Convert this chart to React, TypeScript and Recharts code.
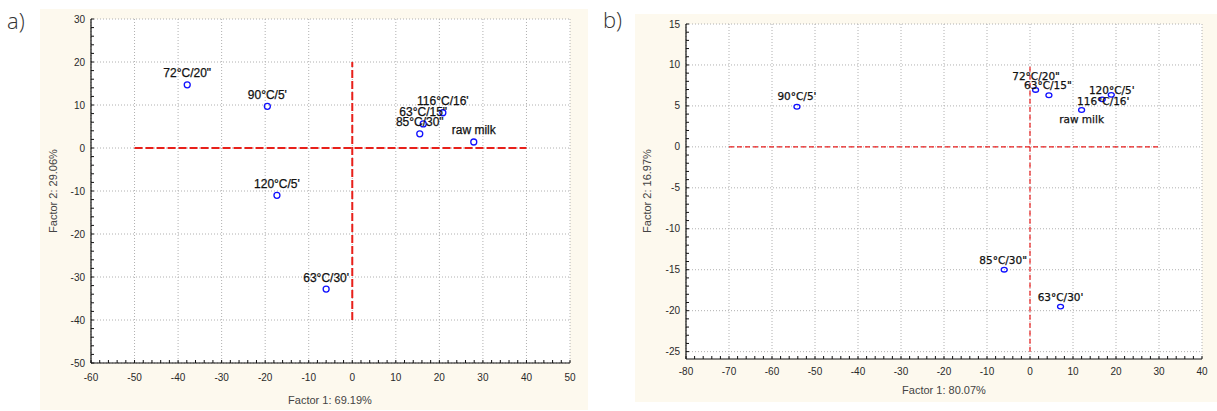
import React from 'react';
import { ScatterChart, Scatter, XAxis, YAxis, CartesianGrid, ReferenceLine } from 'recharts';

// a) factor scores
const leftNames = ['72°C/20"', "90°C/5'", "120°C/5'", "63°C/30'", "116°C/16'", '63°C/15"', '85°C/30"', 'raw milk'];
const leftF1 = [-37.9, -19.5, -17.3, -6.0, 20.8, 16.3, 15.5, 27.9];
const leftF2 = [14.7, 9.7, -11.0, -32.8, 8.2, 5.6, 3.3, 1.4];
const leftXTicks = [-60, -50, -40, -30, -20, -10, 0, 10, 20, 30, 40, 50];
const leftYTicks = [-50, -40, -30, -20, -10, 0, 10, 20, 30];
const leftHLine = [-50, 40];
const leftVLine = [-40, 20];

// b) factor scores
const rightNames = ["90°C/5'", '72°C/20"', '63°C/15"', 'raw milk', "116°C/16'", "120°C/5'", '85°C/30"', "63°C/30'"];
const rightF1 = [-54.2, 1.3, 4.4, 12.0, 16.8, 18.9, -6.0, 7.1];
const rightF2 = [4.9, 6.95, 6.3, 4.5, 5.8, 6.35, -15.0, -19.5];
const rightXTicks = [-80, -70, -60, -50, -40, -30, -20, -10, 0, 10, 20, 30, 40];
const rightYTicks = [-25, -20, -15, -10, -5, 0, 5, 10, 15];
const rightHLine = [-70, 30];
const rightVLine = [-25, 10];

const steps = (lo: number, hi: number, step: number) =>
  Array.from({ length: Math.round((hi - lo) / step) + 1 }, (_, i) => +(lo + i * step).toFixed(4));

const AXIS_FONT = '"Liberation Sans", Arial, sans-serif';

// label offsets for the crowded right panel (text centre relative to point)
const rightShift: Record<string, [number, number]> = {
  "90°C/5'": [0, -10.5],
  '72°C/20"': [0.5, -14.3],
  '63°C/15"': [-1, -10],
  "120°C/5'": [0.5, -5.3],
  "116°C/16'": [1, 1.3],
  'raw milk': [0, 8.7],
  '85°C/30"': [-1, -10],
  "63°C/30'": [0, -10],
};

type PanelProps = {
  names: string[];
  xs: number[];
  ys: number[];
  xTicks: number[];
  yTicks: number[];
  xDomain: [number, number];
  yDomain: [number, number];
  xMinor: number;
  yMinor: number;
  hLine: number[];
  vLine: number[];
  left: number;
  top: number;
  width: number;
  height: number;
  margin: { top: number; right: number; bottom: number; left: number };
  yAxisWidth: number;
  xAxisHeight: number;
  xLabelDy: number;
  refWidth: number;
  refDash: string;
  refColor: string;
  labelFont: string;
  labelSize: number;
  shift: (name: string) => [number, number];
  rx: number;
  ry: number;
};

function Panel(p: PanelProps) {
  const data = p.names.map((name, i) => ({ name, x: p.xs[i], y: p.ys[i] }));
  const xMinorTicks = steps(p.xDomain[0], p.xDomain[1], p.xMinor);
  const yMinorTicks = steps(Math.ceil(p.yDomain[0] / p.yMinor) * p.yMinor, p.yDomain[1], p.yMinor);

  const xTick = (t: any) =>
    p.xTicks.includes(t.payload.value) ? (
      <text x={t.x} y={t.y + p.xLabelDy} textAnchor="middle" dominantBaseline="central" fontFamily={AXIS_FONT} fontSize={10} fill="#2a2a2a">
        {t.payload.value}
      </text>
    ) : (
      <g />
    );
  const yTick = (t: any) =>
    p.yTicks.includes(t.payload.value) ? (
      <text x={t.x - 6} y={t.y} textAnchor="end" dominantBaseline="central" fontFamily={AXIS_FONT} fontSize={10} fill="#2a2a2a">
        {t.payload.value}
      </text>
    ) : (
      <g />
    );
  const blank = () => <g />;

  const shape = (s: any) => {
    const [dx, dy] = p.shift(s.payload.name);
    return (
      <g>
        <ellipse cx={s.cx} cy={s.cy} rx={p.rx} ry={p.ry} fill="none" stroke="#1010ff" strokeWidth={1.3} />
        <text
          x={s.cx + dx}
          y={s.cy + dy}
          textAnchor="middle"
          dominantBaseline="central"
          fontFamily={p.labelFont}
          fontSize={p.labelSize}
          fill="#111"
          stroke="#111"
          strokeWidth={0.25}
        >
          {s.payload.name}
        </text>
      </g>
    );
  };

  const frame = { stroke: '#111', strokeWidth: 1.2 };

  return (
    <div style={{ position: 'absolute', left: p.left, top: p.top, width: p.width, height: p.height, background: '#fdf9ee' }}>
      <ScatterChart width={p.width} height={p.height} margin={p.margin}>
        <CartesianGrid
          fill="#fff"
          stroke="#b0b0b0"
          strokeDasharray="1 2"
          verticalValues={p.xTicks}
          horizontalValues={p.yTicks}
        />
        <XAxis
          dataKey="x"
          type="number"
          domain={p.xDomain}
          allowDataOverflow
          ticks={xMinorTicks}
          interval={0}
          height={p.xAxisHeight}
          tickSize={-3}
          tickMargin={3}
          tick={xTick}
          axisLine={frame}
          tickLine={{ stroke: '#111' }}
        />
        <YAxis
          dataKey="y"
          type="number"
          domain={p.yDomain}
          allowDataOverflow
          ticks={yMinorTicks}
          interval={0}
          width={p.yAxisWidth}
          tickSize={-3}
          tickMargin={3}
          tick={yTick}
          axisLine={frame}
          tickLine={{ stroke: '#111' }}
        />
        <XAxis
          xAxisId="top"
          orientation="top"
          type="number"
          domain={p.xDomain}
          allowDataOverflow
          ticks={xMinorTicks}
          interval={0}
          height={0}
          tickSize={-3}
          tick={blank}
          axisLine={frame}
          tickLine={{ stroke: '#111' }}
        />
        <YAxis
          yAxisId="right"
          orientation="right"
          type="number"
          domain={p.yDomain}
          allowDataOverflow
          ticks={yMinorTicks}
          interval={0}
          width={0}
          tickSize={-3}
          tick={blank}
          axisLine={frame}
          tickLine={{ stroke: '#111' }}
        />
        <ReferenceLine
          segment={[{ x: p.hLine[0], y: 0 }, { x: p.hLine[1], y: 0 }]}
          stroke={p.refColor}
          strokeWidth={p.refWidth}
          strokeDasharray={p.refDash}
        />
        <ReferenceLine
          segment={[{ x: 0, y: p.vLine[0] }, { x: 0, y: p.vLine[1] }]}
          stroke={p.refColor}
          strokeWidth={p.refWidth}
          strokeDasharray={p.refDash}
        />
        <Scatter data={data} shape={shape} isAnimationActive={false} />
      </ScatterChart>
    </div>
  );
}

const titleStyle: React.CSSProperties = {
  position: 'absolute',
  fontFamily: AXIS_FONT,
  fontSize: 11,
  color: '#444',
  whiteSpace: 'nowrap',
  lineHeight: '12px',
};

export default function App() {
  return (
    <div style={{ position: 'absolute', left: 0, top: 0, width: 1217, height: 411, background: '#fff', overflow: 'hidden' }}>
      <Panel
        names={leftNames}
        xs={leftF1}
        ys={leftF2}
        xTicks={leftXTicks}
        yTicks={leftYTicks}
        xDomain={[-60, 50]}
        yDomain={[-50, 30]}
        xMinor={2}
        yMinor={2}
        hLine={leftHLine}
        vLine={leftVLine}
        left={40}
        top={9}
        width={548}
        height={401}
        margin={{ top: 10, right: 18, bottom: 0, left: 0 }}
        yAxisWidth={51}
        xAxisHeight={47}
        xLabelDy={14.4}
        refWidth={2}
        refDash="8 3"
        refColor="#e8201a"
        labelFont={AXIS_FONT}
        labelSize={12}
        shift={() => [0, -11.5]}
        rx={3}
        ry={3}
      />
      <Panel
        names={rightNames}
        xs={rightF1}
        ys={rightF2}
        xTicks={rightXTicks}
        yTicks={rightYTicks}
        xDomain={[-80, 40]}
        yDomain={[-25.9, 15]}
        xMinor={2}
        yMinor={1}
        hLine={rightHLine}
        vLine={rightVLine}
        left={635}
        top={14}
        width={582}
        height={388}
        margin={{ top: 10, right: 15, bottom: 0, left: 0 }}
        yAxisWidth={51}
        xAxisHeight={43}
        xLabelDy={12.3}
        refWidth={1.2}
        refDash="5 3"
        refColor="#e81c1c"
        labelFont='"DejaVu Sans", Verdana, sans-serif'
        labelSize={10.5}
        shift={(n) => rightShift[n] || [0, -10]}
        rx={3}
        ry={2.3}
      />

      <div style={{ ...titleStyle, left: 330, top: 400, transform: 'translate(-50%, -50%)' }}>Factor 1: 69.19%</div>
      <div style={{ ...titleStyle, left: 53, top: 191, transform: 'translate(-50%, -50%) rotate(-90deg)' }}>Factor 2: 29.06%</div>
      <div style={{ ...titleStyle, left: 944, top: 390, transform: 'translate(-50%, -50%)' }}>Factor 1: 80.07%</div>
      <div style={{ ...titleStyle, left: 647, top: 191, transform: 'translate(-50%, -50%) rotate(-90deg)' }}>Factor 2: 16.97%</div>

      <div style={{ position: 'absolute', left: 7, top: 7, fontFamily: '"Open Sans", sans-serif', fontWeight: 300, fontSize: 22, lineHeight: '26px', color: '#333' }}>a)</div>
      <div style={{ position: 'absolute', left: 603, top: 6, fontFamily: '"Open Sans", sans-serif', fontWeight: 300, fontSize: 22, lineHeight: '26px', color: '#333' }}>b)</div>
    </div>
  );
}
